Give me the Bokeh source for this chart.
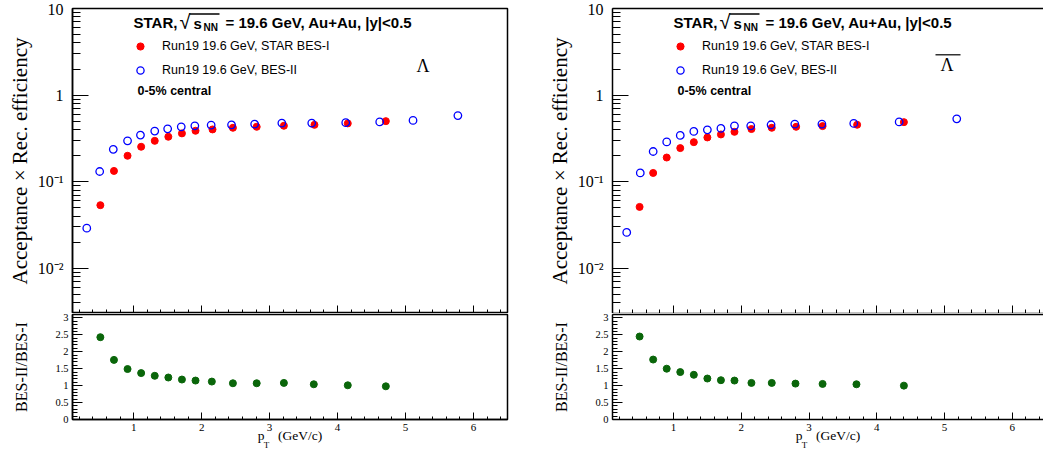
import math
from bokeh.plotting import figure
from bokeh.layouts import row, column
from bokeh.models import (LogAxis, LinearAxis, FixedTicker, SingleIntervalTicker,
                          CustomJSTickFormatter, CustomLabelingPolicy, Label, Legend,
                          LegendItem, BoxAnnotation, Range1d)
from bokeh.embed import file_html
from bokeh.resources import INLINE

# ---------------- data ----------------
# Lambda, 0-5% central
pt_bes1_lam = [0.51, 0.71, 0.91, 1.11, 1.31, 1.51, 1.71, 1.91, 2.16, 2.46, 2.81, 3.21, 3.66, 4.15, 4.71]
eff_bes1_lam = [0.0535, 0.133, 0.199, 0.253, 0.296, 0.330, 0.361, 0.387, 0.401, 0.419, 0.430, 0.442, 0.453, 0.471, 0.500]
pt_bes2_lam = [0.31, 0.50, 0.70, 0.91, 1.10, 1.31, 1.50, 1.70, 1.90, 2.14, 2.44, 2.78, 3.18, 3.62, 4.12, 4.62, 5.11, 5.77]
eff_bes2_lam = [0.029, 0.131, 0.236, 0.296, 0.345, 0.384, 0.408, 0.430, 0.442, 0.450, 0.453, 0.462, 0.475, 0.475, 0.480, 0.490, 0.510, 0.580]
pt_ratio_lam = [0.51, 0.71, 0.91, 1.11, 1.31, 1.51, 1.71, 1.91, 2.15, 2.46, 2.81, 3.21, 3.65, 4.15, 4.71]
ratio_lam = [2.43, 1.76, 1.49, 1.37, 1.29, 1.24, 1.18, 1.15, 1.12, 1.07, 1.07, 1.08, 1.04, 1.01, 0.98]

# anti-Lambda, 0-5% central
pt_bes1_alam = [0.50, 0.70, 0.90, 1.10, 1.30, 1.50, 1.70, 1.90, 2.15, 2.45, 2.81, 3.20, 3.71, 4.40]
eff_bes1_alam = [0.0511, 0.126, 0.190, 0.244, 0.286, 0.324, 0.351, 0.376, 0.405, 0.419, 0.430, 0.438, 0.454, 0.487]
pt_bes2_alam = [0.31, 0.51, 0.70, 0.90, 1.10, 1.30, 1.50, 1.70, 1.90, 2.14, 2.44, 2.79, 3.19, 3.66, 4.33, 5.18]
eff_bes2_alam = [0.0259, 0.126, 0.223, 0.288, 0.342, 0.380, 0.397, 0.412, 0.442, 0.442, 0.454, 0.462, 0.462, 0.471, 0.490, 0.532]
pt_ratio_alam = [0.50, 0.70, 0.90, 1.10, 1.30, 1.50, 1.70, 1.90, 2.15, 2.45, 2.80, 3.20, 3.70, 4.40]
ratio_alam = [2.45, 1.77, 1.50, 1.40, 1.32, 1.21, 1.16, 1.15, 1.08, 1.08, 1.06, 1.05, 1.04, 1.00]

legend_labels = ["Run19 19.6 GeV, STAR BES-I", "Run19 19.6 GeV, BES-II"]
title_star = "STAR,"
title_rest = "= 19.6 GeV, Au+Au, |y|<0.5"
centrality = "0-5% central"
y_title_top = "Acceptance \u00d7 Rec. efficiency"
y_title_bot = "BES-II/BES-I"
x_title_main = "p\u2003(GeV/c)"
# subscript T; trailing em/thin spaces shift the centred glyph left, under the "p"
x_title_sub = "T" + "\u2003" * 5 + "\u2009"
y_major_ticks = [0.01, 0.1, 1, 10]

# ---------------- geometry (page pixels; Bokeh's page has no body margin) ----------------
YMIN, YMAX = 0.003, 10.0
RMIN, RMAX = 0.0, 3.10
TOP_FT, TOP_FB = 8, 313      # top frame
SERIF = "Liberation Serif"
SANS = "Liberation Sans"

LOGFMT = """
const e = Math.round(Math.log10(tick));
if (e === 0) { return "1"; }
if (e === 1) { return "10"; }
const sup = {"-": "\u207b", "0": "\u2070", "1": "\u00b9", "2": "\u00b2", "3": "\u00b3"};
return "10" + String(e).split("").map(c => sup[c]).join("");
"""
RATIOFMT = "return String(Math.round(tick*10)/10);"
NOLABELS = """
const n = indices.size;
for (let i = 0; i < n; i++) { indices.unset(i); }
return indices;
"""

log_minors = [m * 10.0 ** k for k in range(-3, 1) for m in range(2, 10) if YMIN <= m * 10.0 ** k <= YMAX]


def top_xy(px, py, fl, fr, xend):
    x = 0.1 + (px - fl) / (fr - fl) * (xend - 0.1)
    ly = math.log10(YMAX) - (py - TOP_FT) / (TOP_FB - TOP_FT) * (math.log10(YMAX) - math.log10(YMIN))
    return x, 10 ** ly


def add_label(p, conv, px, py, text, font=SANS, size="15px", style="normal", color="black"):
    x, y = conv(px, py)
    p.add_layout(Label(x=x, y=y, text=text, text_font=font, text_font_size=size,
                       text_font_style=style, text_align="left", text_baseline="middle",
                       text_color=color))


def add_bar(p, conv, px0, px1, py0, py1, color="black"):
    x0, y0 = conv(px0, py1)
    x1, y1 = conv(px1, py0)
    p.add_layout(BoxAnnotation(left=x0, right=x1, bottom=y0, top=y1, fill_color=color,
                               fill_alpha=1.0, line_alpha=0))


def line_only_axis():
    return LinearAxis(ticker=FixedTicker(ticks=[]), major_label_text_font_size="0px",
                      major_label_standoff=0, major_tick_in=0, major_tick_out=0,
                      minor_tick_in=0, minor_tick_out=0, axis_line_width=1.5,
                      axis_line_color="black")


def label_axis(text, size, standoff):
    return LinearAxis(ticker=FixedTicker(ticks=[]),
                      axis_label=text, axis_label_text_font=SERIF, axis_label_text_font_size=size,
                      axis_label_text_font_style="normal", axis_label_standoff=standoff,
                      axis_label_text_color="black",
                      major_label_text_font_size="0px", major_label_standoff=0,
                      major_tick_in=0, major_tick_out=0, minor_tick_in=0, minor_tick_out=0,
                      axis_line_color=None)


def style_fig(f):
    f.background_fill_color = "white"
    f.border_fill_color = "white"
    f.grid.visible = False


def make_side(pt1, e1, pt2, e2, ptr, rr, fig_w, mb_left, mb_right, fl, fr, xend, is_left, dx, lam_px, bar_px):
    conv = lambda px, py: top_xy(px, py, fl, fr, xend)

    # ----- top panel -----
    p = figure(width=fig_w, height=313, x_range=Range1d(0.1, xend), y_range=Range1d(YMIN, YMAX),
               y_axis_type="log", x_axis_location=None, y_axis_location=None,
               output_backend="svg", toolbar_location=None,
               min_border_left=mb_left, min_border_right=mb_right, min_border_top=8, min_border_bottom=0)
    style_fig(p)
    if is_left:
        p.outline_line_color = "black"
        p.outline_line_width = 1.5
    else:
        p.outline_line_color = None
        p.add_layout(line_only_axis(), "above")
    yax = LogAxis(ticker=FixedTicker(ticks=y_major_ticks, minor_ticks=log_minors),
                  formatter=CustomJSTickFormatter(code=LOGFMT),
                  axis_label=y_title_top, axis_label_text_font=SERIF, axis_label_text_font_size="21px",
                  axis_label_text_font_style="normal", axis_label_standoff=3,
                  axis_label_text_color="black",
                  major_label_text_font=SERIF, major_label_text_font_size="16px", major_label_standoff=9,
                  major_label_text_color="black",
                  major_tick_in=16, major_tick_out=0, minor_tick_in=8, minor_tick_out=0,
                  axis_line_width=1.5, axis_line_color="black",
                  major_tick_line_color="black", minor_tick_line_color="black")
    p.add_layout(yax, "left")
    xax = LinearAxis(ticker=SingleIntervalTicker(interval=1, num_minor_ticks=5),
                     major_label_text_font_size="0px", major_label_standoff=0,
                     major_label_policy=CustomLabelingPolicy(code=NOLABELS),
                     major_tick_in=8, major_tick_out=0, minor_tick_in=4, minor_tick_out=0,
                     axis_line_width=1.5, axis_line_color="black",
                     major_tick_line_color="black", minor_tick_line_color="black")
    p.add_layout(xax, "below")

    r1 = p.scatter(pt1, e1, size=7, marker="circle", fill_color="red", line_color="red")
    r2 = p.scatter(pt2, e2, size=7.5, marker="circle", fill_color=None, line_color="blue", line_width=1.3)

    legend = Legend(items=[LegendItem(label=legend_labels[0], renderers=[r1]),
                           LegendItem(label=legend_labels[1], renderers=[r2])],
                    location=(59, TOP_FB - 80), padding=0, spacing=4, margin=0,
                    glyph_width=18, glyph_height=20, label_height=20, label_standoff=13,
                    label_text_font=SANS, label_text_font_size="12.5px", label_text_color="black",
                    border_line_alpha=0, background_fill_alpha=0)
    p.add_layout(legend)

    add_label(p, conv, 133 + dx, 22, title_star, size="15px", style="bold")
    add_label(p, conv, 179 + dx, 21, "\u221a", size="20px")
    add_label(p, conv, 193 + dx, 23, "s", size="15px", style="bold")
    add_label(p, conv, 203 + dx, 27, "NN", size="10px", style="bold")
    add_bar(p, conv, 189 + dx, 219 + dx, 12.8, 14.2)
    add_label(p, conv, 225 + dx, 22, title_rest, size="15px", style="bold")
    add_label(p, conv, 137 + dx, 90, centrality, size="12.5px", style="bold")
    add_label(p, conv, lam_px[0], lam_px[1], "\u039b", font=SERIF, size="18px")
    if bar_px is not None:
        add_bar(p, conv, bar_px[0], bar_px[1], bar_px[2], bar_px[3], color="#333333")

    # ----- ratio panel -----
    b = figure(width=fig_w, height=139, x_range=Range1d(0.1, xend), y_range=Range1d(RMIN, RMAX),
               x_axis_location=None, y_axis_location=None,
               output_backend="svg", toolbar_location=None,
               min_border_left=mb_left, min_border_right=mb_right, min_border_top=1, min_border_bottom=31)
    style_fig(b)
    if is_left:
        b.outline_line_color = "black"
        b.outline_line_width = 1.5
    else:
        b.outline_line_color = None
        b.add_layout(line_only_axis(), "above")
    byax = LinearAxis(ticker=SingleIntervalTicker(interval=0.5, num_minor_ticks=5),
                      formatter=CustomJSTickFormatter(code=RATIOFMT),
                      axis_label=y_title_bot, axis_label_text_font=SERIF, axis_label_text_font_size="16px",
                      axis_label_text_font_style="normal", axis_label_standoff=22,
                      axis_label_text_color="black",
                      major_label_text_font=SERIF, major_label_text_font_size="10.5px", major_label_standoff=4,
                      major_label_text_color="black",
                      major_tick_in=10, major_tick_out=0, minor_tick_in=5, minor_tick_out=0,
                      axis_line_width=1.5, axis_line_color="black",
                      major_tick_line_color="black", minor_tick_line_color="black")
    b.add_layout(byax, "left")
    bxax = LinearAxis(ticker=SingleIntervalTicker(interval=1, num_minor_ticks=5),
                      major_label_text_font=SERIF, major_label_text_font_size="11px", major_label_standoff=4,
                      major_label_text_color="black",
                      major_tick_in=7, major_tick_out=0, minor_tick_in=3, minor_tick_out=0,
                      axis_line_width=1.5, axis_line_color="black",
                      major_tick_line_color="black", minor_tick_line_color="black")
    b.add_layout(bxax, "below")
    # x title "p_T (GeV/c)" built from two stacked label-only axes
    b.add_layout(label_axis(x_title_main, "13.5px", -6), "below")
    b.add_layout(label_axis(x_title_sub, "9px", -6), "below")

    b.scatter(ptr, rr, size=7, marker="circle", fill_color="#0a660a", line_color="#0a660a")

    return column(p, b)


left = make_side(pt_bes1_lam, eff_bes1_lam, pt_bes2_lam, eff_bes2_lam, pt_ratio_lam, ratio_lam,
                 fig_w=520, mb_left=72, mb_right=13, fl=72, fr=507, xend=6.5, is_left=True, dx=0,
                 lam_px=(416, 65), bar_px=None)
right = make_side(pt_bes1_alam, eff_bes1_alam, pt_bes2_alam, eff_bes2_alam, pt_ratio_alam, ratio_alam,
                  fig_w=523, mb_left=92, mb_right=0, fl=612, fr=1043, xend=6.46, is_left=False, dx=540,
                  lam_px=(940, 64), bar_px=(935, 960, 53.5, 55))

layout = row(left, right)

open("out.html", "w").write(file_html(layout, INLINE))
